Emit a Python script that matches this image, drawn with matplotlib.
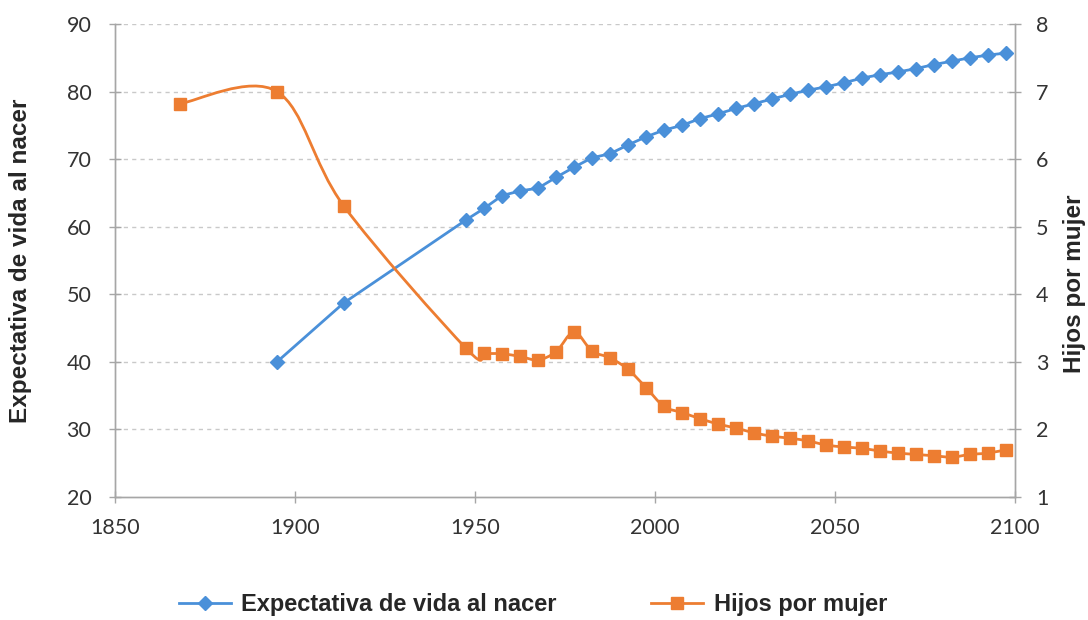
import numpy as np
import matplotlib
matplotlib.use("Agg")
import matplotlib.pyplot as plt
from matplotlib.path import Path
from matplotlib.patches import PathPatch
from matplotlib.lines import Line2D

# ---------------- data ----------------
years_modern = [1947.5 + 5 * k for k in range(31)]

life_years = [1895, 1913.5] + years_modern
life_expectancy = [40.0, 48.7,
                   61.0, 62.7, 64.6, 65.3, 65.7, 67.3, 68.8, 70.2, 70.8, 72.1,
                   73.3, 74.3, 75.0, 76.0, 76.7, 77.5, 78.2, 78.9, 79.6, 80.2,
                   80.7, 81.3, 82.0, 82.5, 82.9, 83.4, 84.0, 84.5, 85.0, 85.4, 85.7]

fert_years = [1868, 1895, 1913.5] + years_modern
children_per_woman = [6.82, 7.00, 5.31,
                      3.20, 3.13, 3.12, 3.08, 3.03, 3.15, 3.44, 3.16, 3.06, 2.89,
                      2.62, 2.34, 2.25, 2.16, 2.08, 2.02, 1.95, 1.90, 1.87, 1.83,
                      1.77, 1.74, 1.72, 1.68, 1.65, 1.63, 1.61, 1.59, 1.63, 1.65, 1.70]

x_ticks = [1850, 1900, 1950, 2000, 2050, 2100]
left_ticks = [20, 30, 40, 50, 60, 70, 80, 90]
right_ticks = [1, 2, 3, 4, 5, 6, 7, 8]

label_left = "Expectativa de vida al nacer"
label_right = "Hijos por mujer"

BLUE = "#4A90D9"
ORANGE = "#ED7D31"
TICK_COLOR = "#333333"
LABEL_COLOR = "#262626"


def smooth_path(xs, ys):
    """Excel-like smoothed line (Catmull-Rom as cubic Bezier)."""
    P = np.column_stack([xs, ys]).astype(float)
    n = len(P)
    verts = [P[0]]
    codes = [Path.MOVETO]
    for i in range(n - 1):
        p0 = P[i - 1] if i > 0 else P[i]
        p1 = P[i]
        p2 = P[i + 1]
        p3 = P[i + 2] if i + 2 < n else P[i + 1]
        c1 = p1 + (p2 - p0) / 6.0
        c2 = p2 - (p3 - p1) / 6.0
        verts += [c1, c2, p2]
        codes += [Path.CURVE4] * 3
    return Path(verts, codes)


fig = plt.figure(figsize=(10.88, 6.2), dpi=100)
ax = fig.add_axes([115 / 1088, 1 - 497 / 620, 900 / 1088, 473 / 620])
ax2 = ax.twinx()

tick_font = dict(family=["Lato", "DejaVu Sans"], size=15.5)
label_font = dict(family=["Liberation Sans", "DejaVu Sans"], size=17.5, weight="bold")

# life expectancy (left axis)
ax.plot(life_years, life_expectancy, color=BLUE, lw=2.0, marker="D",
        markersize=7, markeredgecolor=BLUE, zorder=3)

# children per woman (right axis), smoothed line
ax2.add_patch(PathPatch(smooth_path(fert_years, children_per_woman),
                        facecolor="none", edgecolor=ORANGE, lw=2.0, zorder=3))
ax2.plot(fert_years, children_per_woman, linestyle="none", marker="s",
         markersize=9, color=ORANGE, zorder=4)

ax.set_xlim(1850, 2100)
ax.set_ylim(20, 90)
ax2.set_ylim(1, 8)
ax.set_xticks(x_ticks)
ax.set_yticks(left_ticks)
ax2.set_yticks(right_ticks)

ax.set_xticklabels([str(v) for v in x_ticks], **tick_font, color=TICK_COLOR)
ax.set_yticklabels([str(v) for v in left_ticks], **tick_font, color=TICK_COLOR)
ax2.set_yticklabels([str(v) for v in right_ticks], **tick_font, color=TICK_COLOR)

# grid
for v in left_ticks[1:]:
    ax.axhline(v, color="#c9c9c9", lw=1.0, ls=(0, (3, 3)), zorder=1)

for a in (ax, ax2):
    a.spines["top"].set_visible(False)
    for s in ("left", "right", "bottom"):
        a.spines[s].set_color("#a6a6a6")
        a.spines[s].set_linewidth(1.0)

ax.tick_params(axis="x", direction="inout", length=8, width=1, color="#a6a6a6", pad=11)
ax.tick_params(axis="y", direction="inout", length=8, width=1, color="#a6a6a6", pad=13)
ax2.tick_params(axis="y", direction="inout", length=8, width=1, color="#a6a6a6", pad=11)

ax.set_ylabel(label_left, **label_font, color=LABEL_COLOR)
ax.yaxis.set_label_coords(-0.092, 0.5)
ax2.set_ylabel(label_right, **label_font, color=LABEL_COLOR)
ax2.yaxis.set_label_coords(1.053, 0.45)

handles = [
    Line2D([], [], color=BLUE, lw=2.0, marker="D", markersize=7),
    Line2D([], [], color=ORANGE, lw=2.0, marker="s", markersize=9),
]
leg = fig.legend(handles, [label_left, label_right], loc="center",
                 bbox_to_anchor=(533 / 1088, 1 - 605 / 620), ncol=2, frameon=False,
                 handlelength=2.2, handletextpad=0.45, columnspacing=4.0,
                 prop=dict(family=["Liberation Sans", "DejaVu Sans"], size=17, weight="bold"))
for t in leg.get_texts():
    t.set_color(LABEL_COLOR)

fig.savefig("out.png", dpi=100, facecolor="white")
